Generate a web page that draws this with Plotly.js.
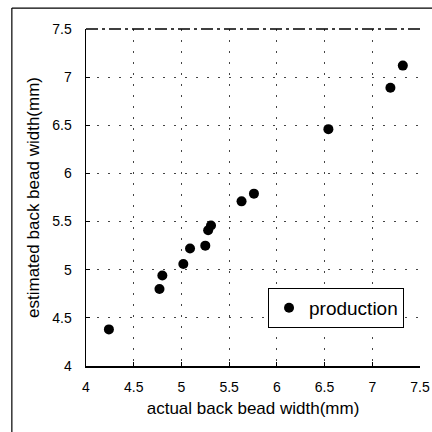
<!DOCTYPE html>
<html>
<head>
<meta charset="utf-8">
<script src="https://cdn.plot.ly/plotly-3.0.1.min.js"></script>
<style>html,body{margin:0;padding:0;background:#fff;}#chart{width:432px;height:432px;}</style>
</head>
<body>
<div id="chart"></div>
<script>
const seriesName = "production";
const actualWidth = [4.24, 4.77, 4.80, 5.02, 5.09, 5.25, 5.28, 5.31, 5.63, 5.76, 6.54, 7.19, 7.32];
const estimatedWidth = [4.38, 4.80, 4.94, 5.06, 5.22, 5.25, 5.41, 5.46, 5.71, 5.79, 6.46, 6.89, 7.12];
const tickValues = [4, 4.5, 5, 5.5, 6, 6.5, 7, 7.5];
const xTitle = "actual back bead width(mm)";
const yTitle = "estimated back bead width(mm)";

const font = "Liberation Sans, Arial, sans-serif";
const trace = {
  type: "scatter", mode: "markers", name: seriesName,
  x: actualWidth, y: estimatedWidth,
  marker: {color: "#000", size: 10},
  showlegend: true
};
const axisCommon = {
  range: [4, 7.5], tickvals: tickValues,
  showline: true, linecolor: "#000", linewidth: 1.5,
  ticks: "inside", ticklen: 4, tickcolor: "#000",
  showgrid: true, gridcolor: "#444", gridwidth: 1, griddash: "2px,9px",
  zeroline: false,
  tickfont: {family: font, size: 14, color: "#000"}
};
const layout = {
  width: 432, height: 432,
  margin: {l: 86, r: 12, t: 29, b: 66},
  paper_bgcolor: "#fff", plot_bgcolor: "#fff",
  showlegend: true,
  legend: {
    x: 0.545, y: 0.232, xanchor: "left", yanchor: "top",
    bordercolor: "#000", borderwidth: 1, bgcolor: "#fff",
    font: {family: font, size: 19, color: "#000"},
    itemwidth: 30, tracegroupgap: 0
  },
  xaxis: Object.assign({}, axisCommon, {
    ticklabelstandoff: 8,
    title: {text: xTitle, font: {family: font, size: 17, color: "#000"}, standoff: 8}
  }),
  yaxis: Object.assign({}, axisCommon, {
    ticklabelstandoff: 10,
    title: {text: yTitle, font: {family: font, size: 17, color: "#000"}, standoff: 8}
  }),
  shapes: [
    {type: "line", xref: "paper", yref: "paper", x0: 0, x1: 1, y0: 1, y1: 1,
     line: {color: "#000", width: 1.5, dash: "12px,4px,3px,4px"}},
    {type: "line", xref: "paper", yref: "paper", x0: -0.222, x1: 1.04, y0: 1.062, y1: 1.062,
     line: {color: "#000", width: 1.2}},
    {type: "line", xref: "paper", yref: "paper", x0: -0.222, x1: -0.222, y0: 1.062, y1: -0.2,
     line: {color: "#000", width: 1.2}}
  ]
};
Plotly.newPlot("chart", [trace], layout, {displayModeBar: false, staticPlot: true});
</script>
</body>
</html>
